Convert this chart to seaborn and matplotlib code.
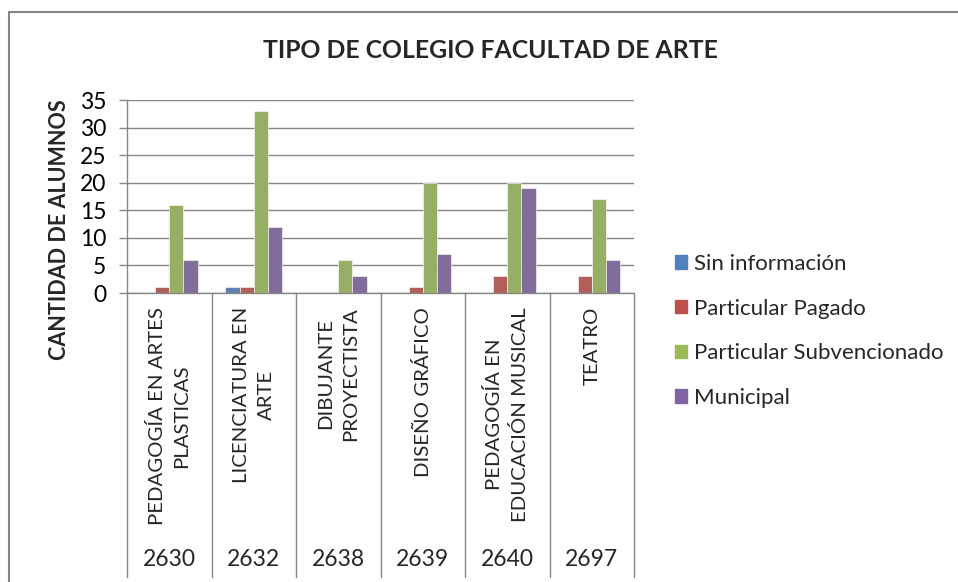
import pandas as pd
import numpy as np
import matplotlib
matplotlib.use("Agg")
import matplotlib.pyplot as plt
import matplotlib.transforms as mtransforms
from matplotlib.lines import Line2D
from matplotlib.patches import Rectangle
import seaborn as sns

# ==========================================
# DATA
# ==========================================

codes = ["2630", "2632", "2638", "2639", "2640", "2697"]

carreras = [
    "PEDAGOGÍA EN ARTES\nPLASTICAS",
    "LICENCIATURA EN\nARTE",
    "DIBUJANTE\nPROYECTISTA",
    "DISEÑO GRÁFICO",
    "PEDAGOGÍA EN\nEDUCACIÓN MUSICAL",
    "TEATRO",
]

series = ["Sin información", "Particular Pagado",
          "Particular Subvencionado", "Municipal"]

sin_informacion = [0, 1, 0, 0, 0, 0]
particular_pagado = [1, 1, 0, 1, 3, 3]
particular_subvencionado = [16, 33, 6, 20, 20, 17]
municipal = [6, 12, 3, 7, 19, 6]

colors = ["#4F81BD", "#C0504D", "#9BBB59", "#8064A2"]

df = pd.DataFrame({
    "codigo": codes * 4,
    "tipo": np.repeat(series, len(codes)),
    "alumnos": sin_informacion + particular_pagado
    + particular_subvencionado + municipal,
})

# ==========================================
# PLOT
# ==========================================

sns.set_style("white")
plt.rcParams["font.family"] = ["Lato", "DejaVu Sans"]

W, H = 958, 582
fig = plt.figure(figsize=(W / 100, H / 100), dpi=100)

x0, x1, y_top, y_bot = 127, 634, 100, 293
ax = fig.add_axes([x0 / W, 1 - y_bot / H, (x1 - x0) / W, (y_bot - y_top) / H])

sns.barplot(
    data=df,
    x="codigo",
    y="alumnos",
    hue="tipo",
    order=codes,
    hue_order=series,
    palette=colors,
    width=0.67,
    edgecolor="white",
    linewidth=0.4,
    ax=ax,
)

grid_c = "#868686"
ax.set_ylim(0, 35)
ax.set_xlim(-0.5, len(codes) - 0.5)
ax.set_yticks(range(0, 36, 5))
ax.yaxis.grid(True, color=grid_c, linewidth=1)
ax.set_axisbelow(True)
ax.tick_params(axis="y", left=True, length=6, width=1, color=grid_c,
               labelsize=16.5, pad=9, labelcolor="#000000")
ax.set_xticks([])
ax.set_xlabel("")
ax.set_ylabel("")
for s in ["top", "right"]:
    ax.spines[s].set_visible(False)
for s in ["left", "bottom"]:
    ax.spines[s].set_color(grid_c)
    ax.spines[s].set_linewidth(1)

# category separators and two-row labels
trans = mtransforms.blended_transform_factory(ax.transData, fig.transFigure)
for b in np.arange(-0.5, len(codes)):
    fig.add_artist(Line2D([b, b], [1 - y_bot / H, 1 - 577 / H],
                          transform=trans, color=grid_c, linewidth=1))

for i, (name, code) in enumerate(zip(carreras, codes)):
    ax.text(i, 1 - 307 / H, name, transform=trans, rotation=90,
            ha="center", va="top", multialignment="center",
            fontsize=14.7, linespacing=1.55)
    ax.text(i, 1 - 559 / H, code, transform=trans,
            ha="center", va="center", fontsize=16.5)

ax.legend_.remove()
handles = [Rectangle((0, 0), 1, 1, color=c) for c in colors]
fig.legend(handles, series, loc="upper left",
           bbox_to_anchor=(666 / W, 1 - 245 / H),
           frameon=False, fontsize=16, handlelength=0.55,
           handleheight=0.55, handletextpad=0.3, labelspacing=1.11,
           borderaxespad=0)

fig.text(490 / W, 1 - 50 / H, "TIPO DE COLEGIO FACULTAD DE ARTE",
         ha="center", va="center", fontsize=17.8, fontweight="bold")
fig.text(60 / W, 1 - 230 / H, "CANTIDAD DE ALUMNOS", rotation=90,
         ha="center", va="center", fontsize=15.5, fontweight="bold")

# chart area border (top and left edges visible)
fig.add_artist(Rectangle((9 / W, -0.1), 1.2, 1 - 12 / H + 0.1,
                         transform=fig.transFigure, fill=False,
                         edgecolor="#868686", linewidth=1.5))

fig.savefig("out.png", dpi=100)
